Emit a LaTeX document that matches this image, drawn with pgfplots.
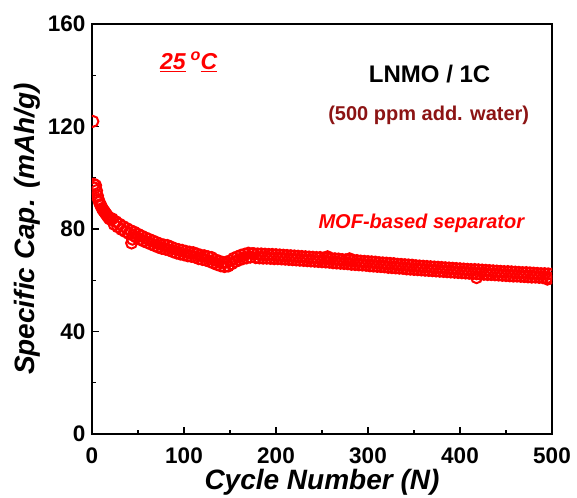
\documentclass[border=0pt]{standalone}
\usepackage{pgfplots}
\pgfplotsset{compat=1.18}
\usepackage{fontspec}
\setmainfont{Liberation Sans}
\definecolor{capred}{RGB}{255,0,0}
\definecolor{darkred}{RGB}{140,20,20}

% discharge capacity per cycle
\pgfplotstableread{
cyc cap
1 122.0
2 97.5
3 96.0
4 97.0
5 95.0
6 93.0
7 91.5
8 90.5
9 89.5
10 89.0
11 88.0
12 87.5
13 87.0
14 86.5
15 86.0
16 85.5
17 85.0
18 84.5
19 84.0
20 83.8
22 84.0
24 81.8
26 82.9
28 80.8
30 81.9
32 79.8
34 81.0
36 79.0
38 80.2
40 78.2
42 79.4
43 74.5
44 76.0
45 77.5
46 78.8
48 76.8
50 78.0
52 76.0
54 77.3
56 75.3
58 76.6
60 74.7
62 76.0
64 74.1
66 75.4
68 73.5
70 74.8
72 72.9
74 74.2
76 72.4
78 73.8
80 72.1
82 73.6
84 71.7
86 73.0
88 71.1
90 72.4
92 70.6
94 72.0
96 70.2
98 71.7
100 69.9
102 71.3
104 69.5
106 71.0
108 69.3
110 70.8
112 69.0
114 70.3
116 68.4
118 69.8
120 68.1
122 69.6
124 67.8
126 69.2
128 67.3
130 68.9
132 66.7
134 68.0
136 66.1
138 67.5
140 65.6
142 67.0
144 65.3
146 67.1
148 65.5
150 67.6
152 66.4
154 68.6
156 67.3
158 69.2
160 67.9
162 69.8
164 68.4
166 70.2
168 68.7
170 70.6
172 69.0
174 70.4
176 70.4
178 68.8
180 70.3
182 68.7
184 70.3
186 68.6
188 70.2
190 68.6
192 70.1
194 68.5
196 70.1
198 68.4
200 70.0
202 68.4
204 69.9
206 68.3
208 69.8
210 68.2
212 69.7
214 68.1
216 69.6
218 68.0
220 69.5
222 67.9
224 69.4
226 67.8
228 69.3
230 67.7
232 69.2
234 67.6
236 69.1
238 67.5
240 69.0
242 67.4
244 68.9
246 67.3
248 68.9
250 67.2
252 68.7
254 67.1
256 68.6
256 69.2
258 67.0
260 68.5
262 66.8
264 68.4
266 66.7
268 68.3
270 66.6
272 68.1
274 66.5
276 68.0
278 66.4
280 67.9
280 68.4
282 66.2
284 67.8
286 66.1
288 67.7
290 66.0
292 67.5
294 65.9
296 67.4
298 65.8
300 67.3
302 65.6
304 67.2
306 65.5
308 67.1
310 65.4
312 66.9
314 65.3
316 66.8
318 65.2
320 66.7
322 65.0
324 66.6
326 64.9
328 66.5
330 64.8
332 66.3
334 64.7
336 66.2
338 64.6
340 66.1
342 64.4
344 66.0
346 64.3
348 65.9
350 64.2
352 65.7
354 64.1
356 65.6
358 64.0
360 65.5
362 63.9
364 65.4
366 63.8
368 65.3
370 63.7
372 65.2
374 63.6
376 65.1
378 63.5
380 65.0
382 63.4
384 64.9
386 63.3
388 64.8
390 63.2
392 64.7
394 63.1
396 64.6
398 63.0
400 64.5
402 62.9
404 64.4
406 62.8
408 64.3
410 62.7
412 64.2
414 62.6
416 64.2
418 62.5
418 61.0
420 64.1
422 62.4
424 64.0
426 62.3
428 63.9
430 62.2
432 63.8
434 62.2
436 63.7
438 62.1
440 63.6
442 62.0
444 63.5
446 61.9
448 63.4
450 61.8
452 63.4
454 61.7
456 63.3
458 61.6
460 63.2
462 61.6
464 63.1
466 61.5
468 63.0
470 61.4
472 63.0
474 61.3
476 62.9
478 61.2
480 62.8
482 61.2
484 62.7
486 61.1
488 62.6
490 61.0
492 62.6
494 60.9
495 60.4
496 62.5
498 60.8
500 62.4
}\capdata

\begin{document}
\begin{tikzpicture}
\begin{axis}[
  at={(0,0)}, anchor=south west,
  scale only axis,
  width=460pt, height=410pt,
  xmin=0, xmax=500, ymin=0, ymax=160,
  xtick={0,100,...,500}, ytick={0,40,...,160},
  minor x tick num=1, minor y tick num=1,
  tick align=inside,
  xtick pos=bottom, ytick pos=left,
  major tick length=7pt, minor tick length=4pt,
  axis line style={line width=1.2pt},
  every tick/.style={line width=1.1pt, black},
  /pgf/number format/assume math mode=true,
  tick label style={font=\fontsize{22.5}{26}\selectfont\bfseries},
  xticklabel style={yshift=-10pt},
  yticklabel style={xshift=-3pt},
  xlabel={Cycle Number (N)},
  ylabel={Specific Cap. (mAh/g)},
  label style={font=\fontsize{28}{32}\selectfont\bfseries\itshape},
  xlabel style={at={(axis description cs:0.5,-0.118)}, anchor=center},
  ylabel style={at={(axis description cs:-0.141,0.5)}, anchor=center},
  clip marker paths=true,
]
\addplot[only marks, mark=o, mark size=5.5pt, capred,
  mark options={line width=2pt}] table[x=cyc, y=cap] {\capdata};

\node[capred, font=\fontsize{23}{27}\selectfont\bfseries\itshape]
  at (axis cs:105,145.2) {\underline{25}\hspace{5pt}\textsuperscript{o}\hspace{-0.5pt}\underline{C}};
\node[black, font=\fontsize{24}{28}\selectfont\bfseries]
  at (axis cs:367,140.5) {LNMO / 1C};
\node[darkred, font=\fontsize{20}{24}\selectfont\bfseries]
  at (axis cs:366,124.5) {(500 ppm add. water)};
\node[capred, font=\fontsize{20}{24}\selectfont\bfseries\itshape]
  at (axis cs:358,82.3) {MOF-based separator};
\end{axis}
\pgfresetboundingbox
\path[use as bounding box] (-92pt,-63pt) rectangle (485pt,434pt);
\end{tikzpicture}
\end{document}
